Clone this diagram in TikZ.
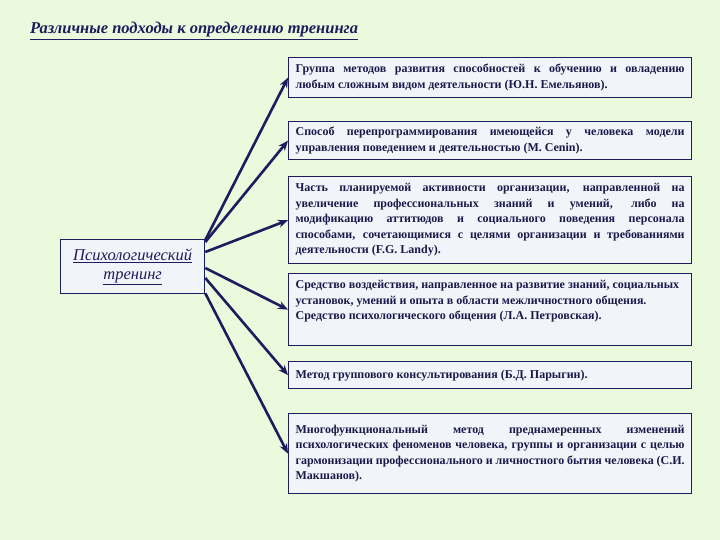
\documentclass[tikz,border=0pt]{standalone}
\usepackage{fontspec}
\setmainfont{Liberation Serif}
\usetikzlibrary{arrows.meta}
\definecolor{bg}{HTML}{EBFADC}
\definecolor{boxfill}{HTML}{F1F5FA}
\definecolor{navy}{HTML}{1C1C5E}
\definecolor{txt}{HTML}{1A1A4A}
\newcommand{\bxtext}[3]{\begin{minipage}[c][#1pt][#2]{389pt}#3\end{minipage}}
\begin{document}
\begin{tikzpicture}[x=1pt,y=-1pt,
  box/.style={draw=navy, line width=1.3pt, fill=boxfill, anchor=north west,
    inner xsep=7pt, inner ysep=0pt, text=txt,
    font=\fontsize{12}{15.5}\selectfont\bfseries},
  arr/.style={draw=navy, line width=2.6pt, -{Stealth[length=10pt,width=8pt]}}]
\fill[bg] (0,0) rectangle (720,540);
\useasboundingbox (0,0) rectangle (720,540);
\node[anchor=base west, inner sep=0pt, text=navy,
  font=\fontsize{16.5}{18}\selectfont\bfseries\itshape] (title) at (30,34)
  {\underline{Различные подходы к определению тренинга}};

\node[box] (b1) at (288,57) {\bxtext{40}{c}{Группа методов развития способностей к обучению и овладению\linebreak любым сложным видом деятельности (Ю.Н. Емельянов).}};
\node[box] (b2) at (288,121) {\bxtext{38}{c}{Способ перепрограммирования имеющейся у человека модели\linebreak управления поведением и деятельностью (M. Cenin).}};
\node[box] (b3) at (288,176) {\bxtext{87}{c}{Часть планируемой активности организации, направленной на\linebreak увеличение профессиональных знаний и умений, либо на\linebreak модификацию аттитюдов и социального поведения персонала\linebreak способами, сочетающимися с целями организации и требованиями\linebreak деятельности (F.G. Landy).}};
\node[box] (b4) at (288,273) {\bxtext{72}{t}{\vspace*{7pt}\raggedright Средство воздействия, направленное на развитие знаний, социальных\\ установок, умений и опыта в области межличностного общения.\\ Средство психологического общения (Л.А. Петровская).}};
\node[box] (b5) at (288,361) {\bxtext{27}{c}{Метод группового консультирования (Б.Д. Парыгин).}};
\node[box] (b6) at (288,413) {\bxtext{80}{c}{Многофункциональный метод преднамеренных изменений\linebreak психологических феноменов человека, группы и организации с целью\linebreak гармонизации профессионального и личностного бытия человека (С.И.\linebreak Макшанов).}};

\node[draw=navy, line width=1.3pt, fill=boxfill, anchor=north west,
  minimum width=144pt, minimum height=54pt, inner sep=0pt, align=center,
  text=navy, font=\fontsize{16.5}{19}\selectfont\itshape] (L) at (60,239)
  {\underline{Психологический}\\\underline{тренинг}};

\draw[arr] ([yshift=-1pt]L.north east) -- (b1.west);
\draw[arr] ([yshift=-3pt]L.north east) -- (b2.west);
\draw[arr] ([yshift=-13pt]L.north east) -- (b3.west);
\draw[arr] ([yshift=-29pt]L.north east) -- (b4.west);
\draw[arr] ([yshift=-39pt]L.north east) -- (b5.west);
\draw[arr] ([yshift=1pt]L.south east) -- (b6.west);
\end{tikzpicture}
\end{document}
